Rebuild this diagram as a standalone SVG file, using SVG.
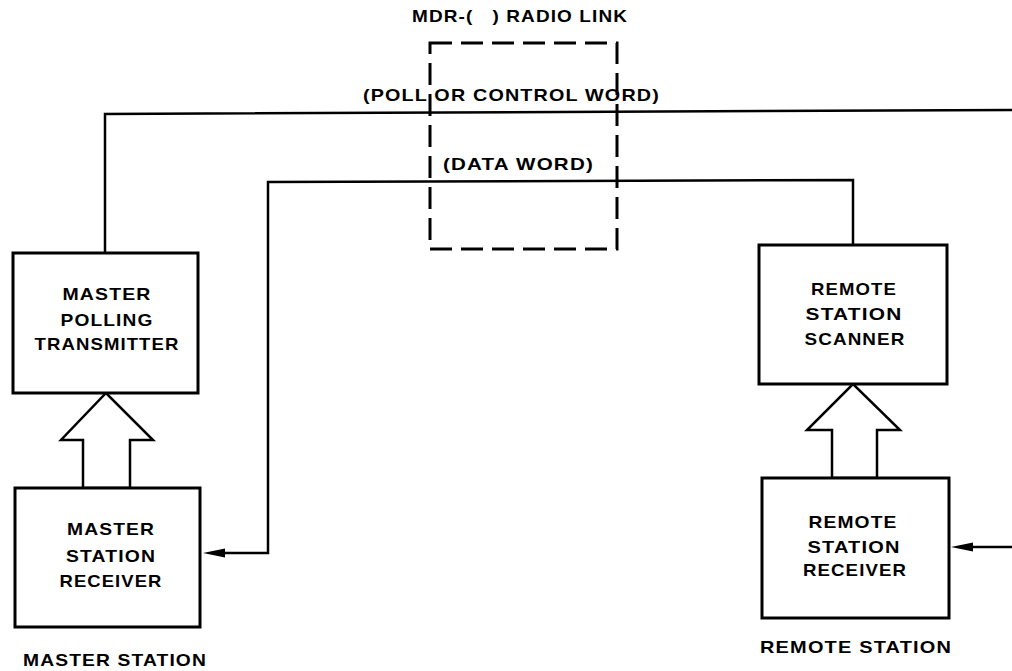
<svg xmlns="http://www.w3.org/2000/svg" width="1012" height="671" viewBox="0 0 1012 671">
<style>
  .box { fill: #fff; stroke: #000; stroke-width: 3; }
  .line { fill: none; stroke: #000; stroke-width: 2.5; stroke-linejoin: miter; }
  .hollow { fill: #fff; stroke: #000; stroke-width: 2.5; stroke-linejoin: miter; }
  .dash { fill: none; stroke: #000; stroke-width: 3; stroke-dasharray: 22 9; }
  .t { font-family: "Liberation Sans", Arial, sans-serif; font-weight: bold; font-size: 17px; letter-spacing: 1px; text-anchor: middle; fill: #000; }
  .lbl { font-family: "Liberation Sans", Arial, sans-serif; font-weight: bold; font-size: 17px; letter-spacing: 1px; fill: #000; }
</style>
<rect width="1012" height="671" fill="#fff"/>

<g id="radio-link">
  <rect class="dash" x="430" y="43" width="187" height="206"/>
  <text class="lbl" x="412" y="22" textLength="216" lengthAdjust="spacingAndGlyphs" xml:space="preserve" font-size="14">MDR-(   ) RADIO LINK</text>
</g>

<g id="connectors">
  <polyline class="line" points="105,253 105,114 1012,110"/>
  <polyline class="line" points="853,245 853,180 268,182 268,553 222,553"/>
  <line class="line" x1="1012" y1="547" x2="972" y2="547"/>
  <path d="M203,553 L225,548.5 L225,557.5 Z" fill="#000"/>
  <path d="M951,547 L973,542.5 L973,551.5 Z" fill="#000"/>
  <polygon class="hollow" points="83,488 83,440 61,440 106,393 153,440 130,440 130,488"/>
  <polygon class="hollow" points="832,478 832,430 807,430 853,384 900,430 877,430 877,478"/>
  <text class="lbl" x="363" y="101" textLength="297" lengthAdjust="spacingAndGlyphs">(POLL OR CONTROL WORD)</text>
  <text class="lbl" x="443" y="170" textLength="151" lengthAdjust="spacingAndGlyphs">(DATA WORD)</text>
</g>

<g id="master-polling-transmitter">
  <rect class="box" x="13" y="253" width="185" height="140"/>
  <text class="t" x="107" y="300" textLength="89" lengthAdjust="spacingAndGlyphs">MASTER</text>
  <text class="t" x="107" y="326" textLength="93" lengthAdjust="spacingAndGlyphs">POLLING</text>
  <text class="t" x="107" y="350" textLength="145" lengthAdjust="spacingAndGlyphs">TRANSMITTER</text>
</g>

<g id="master-station-receiver">
  <rect class="box" x="15" y="488" width="185" height="139"/>
  <text class="t" x="111" y="535" textLength="88" lengthAdjust="spacingAndGlyphs">MASTER</text>
  <text class="t" x="111" y="562" textLength="90" lengthAdjust="spacingAndGlyphs">STATION</text>
  <text class="t" x="111" y="587" textLength="103" lengthAdjust="spacingAndGlyphs">RECEIVER</text>
</g>

<g id="remote-station-scanner">
  <rect class="box" x="759" y="245" width="188" height="139"/>
  <text class="t" x="854" y="295" textLength="86" lengthAdjust="spacingAndGlyphs">REMOTE</text>
  <text class="t" x="854" y="320" textLength="97" lengthAdjust="spacingAndGlyphs">STATION</text>
  <text class="t" x="855" y="345" textLength="101" lengthAdjust="spacingAndGlyphs">SCANNER</text>
</g>

<g id="remote-station-receiver">
  <rect class="box" x="762" y="478" width="187" height="140"/>
  <text class="t" x="853" y="528" textLength="89" lengthAdjust="spacingAndGlyphs">REMOTE</text>
  <text class="t" x="854" y="553" textLength="93" lengthAdjust="spacingAndGlyphs">STATION</text>
  <text class="t" x="855" y="576" textLength="104" lengthAdjust="spacingAndGlyphs">RECEIVER</text>
</g>

<g id="labels">
  <text class="lbl" x="23" y="666" textLength="184" lengthAdjust="spacingAndGlyphs">MASTER STATION</text>
  <text class="lbl" x="760" y="653" textLength="192" lengthAdjust="spacingAndGlyphs">REMOTE STATION</text>
</g>
</svg>
